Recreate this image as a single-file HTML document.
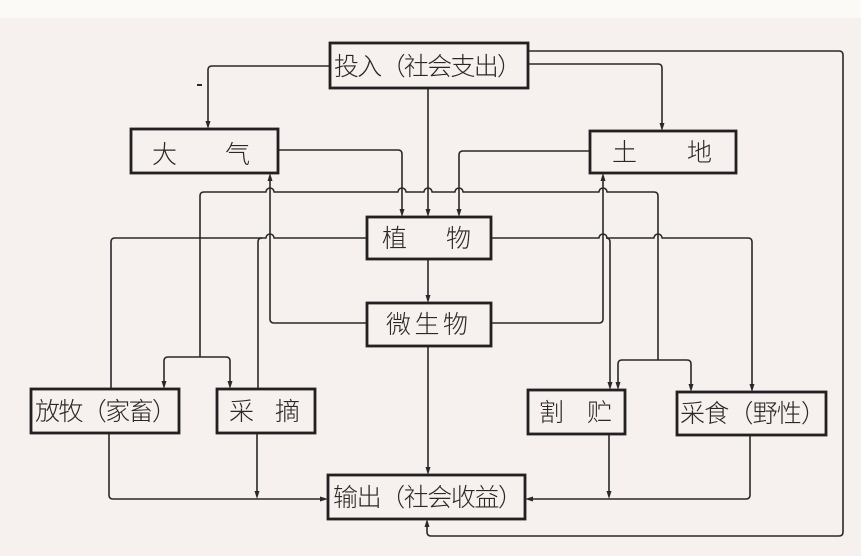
<!DOCTYPE html>
<html><head><meta charset="utf-8">
<style>
html,body{margin:0;padding:0;}
body{width:861px;height:556px;overflow:hidden;background:#f6f0ee;}
svg{display:block;}
text{font-family:"Liberation Sans","Noto Sans CJK SC","WenQuanYi Zen Hei",sans-serif;font-size:25px;font-weight:300;fill:#2a2727;}
</style></head>
<body>
<svg width="861" height="556" viewBox="0 0 861 556" xmlns="http://www.w3.org/2000/svg">
<rect x="0" y="0" width="861" height="556" fill="#f6f0ee"/>
<rect x="0" y="0" width="861" height="18" fill="#fcfaf6"/>

<g fill="none" stroke="#2a2828" stroke-width="1.6" stroke-linejoin="round">
<path d="M330,66 H212 Q208,66 208,70 V122"/>
<path d="M528,64 H658 Q662,64 662,68 V124"/>
<path d="M528,51 H839 Q843,51 843,55 V532 Q843,536 839,536 H431 Q427,536 427,532 V526"/>
<path d="M428,88 V210"/>
<path d="M278,150 H398 Q402,150 402,154 V210"/>
<path d="M590,151 H463 Q459,151 459,155 V210"/>
<path d="M200,357 V196 Q200,192 204,192 H266 A4,4 0 0 1 274,192 H398 A4,4 0 0 1 406,192 H424 A4,4 0 0 1 432,192 H455 A4,4 0 0 1 463,192 H599 A4,4 0 0 1 607,192 H654 Q658,192 658,196 V360"/>
<path d="M164,382 V361 Q164,357 168,357 H226 Q230,357 230,361 V382"/>
<path d="M618,383 V364 Q618,360 622,360 H687 Q691,360 691,364 V385"/>
<path d="M367,238 H274 A4,4 0 0 0 266,238 H115 Q111,238 111,242 V389"/>
<path d="M262,238 Q258,238 258,242 V389"/>
<path d="M367,323 H274 Q270,323 270,319 V180"/>
<path d="M491,323 H599 Q603,323 603,319 V180"/>
<path d="M491,238 H599 A4,4 0 0 1 607,238 H654 A4,4 0 0 1 662,238 H748 Q752,238 752,242 V385"/>
<path d="M606,238 Q610,238 610,242 V383"/>
<path d="M428,259 V296"/>
<path d="M428,346 V468"/>
<path d="M109,433 V495 Q109,499 113,499 H321"/>
<path d="M257,433 V492"/>
<path d="M750,435 V495 Q750,499 746,499 H532"/>
<path d="M609,434 V492"/>
<path d="M197,85 H202" stroke-width="2"/>
</g>

<g fill="#2a2828">
<polygon points="205.5,121 210.5,121 208,129"/>
<polygon points="659.5,123 664.5,123 662,131"/>
<polygon points="425.5,209 430.5,209 428,217"/>
<polygon points="399.5,209 404.5,209 402,217"/>
<polygon points="456.5,209 461.5,209 459,217"/>
<polygon points="161.5,381 166.5,381 164,389"/>
<polygon points="227.5,381 232.5,381 230,389"/>
<polygon points="615.5,382 620.5,382 618,390"/>
<polygon points="688.5,384 693.5,384 691,392"/>
<polygon points="749.5,384 754.5,384 752,392"/>
<polygon points="607.5,382 612.5,382 610,390"/>
<polygon points="425.5,295 430.5,295 428,303"/>
<polygon points="425.5,467 430.5,467 428,475"/>
<polygon points="254.5,491 259.5,491 257,499"/>
<polygon points="606.5,491 611.5,491 609,499"/>
<polygon points="267.5,181 272.5,181 270,173"/>
<polygon points="600.5,181 605.5,181 603,173"/>
<polygon points="424.5,527 429.5,527 427,519"/>
<polygon points="320,496.5 320,501.5 328,499"/>
<polygon points="533,496.5 533,501.5 525,499"/>
</g>

<g fill="none" stroke="#222020" stroke-width="2.8">
<rect x="330" y="43" width="198" height="45"/>
<rect x="131" y="129" width="147" height="44"/>
<rect x="590" y="131" width="146" height="42"/>
<rect x="367" y="217" width="124" height="42"/>
<rect x="367" y="303" width="124" height="43"/>
<rect x="31" y="389" width="148" height="44"/>
<rect x="217" y="389" width="98" height="44"/>
<rect x="528" y="390" width="97" height="44"/>
<rect x="677" y="392" width="149" height="43"/>
<rect x="328" y="475" width="197" height="44"/>
</g>

<text x="334" y="75" textLength="188" lengthAdjust="spacing">投入（社会支出）</text>
<text x="152" y="163">大</text>
<text x="225" y="163">气</text>
<text x="612" y="161">土</text>
<text x="687" y="161">地</text>
<text x="382" y="247">植</text>
<text x="446" y="247">物</text>
<text x="386" y="333" textLength="82" lengthAdjust="spacing">微生物</text>
<text x="35" y="420" textLength="142" lengthAdjust="spacing">放牧（家畜）</text>
<text x="229" y="420">采</text>
<text x="275" y="420">摘</text>
<text x="539" y="421">割</text>
<text x="587" y="421">贮</text>
<text x="680" y="422" textLength="146" lengthAdjust="spacing">采食（野性）</text>
<text x="333" y="506" textLength="190" lengthAdjust="spacing">输出（社会收益）</text>
</svg>
</body></html>
